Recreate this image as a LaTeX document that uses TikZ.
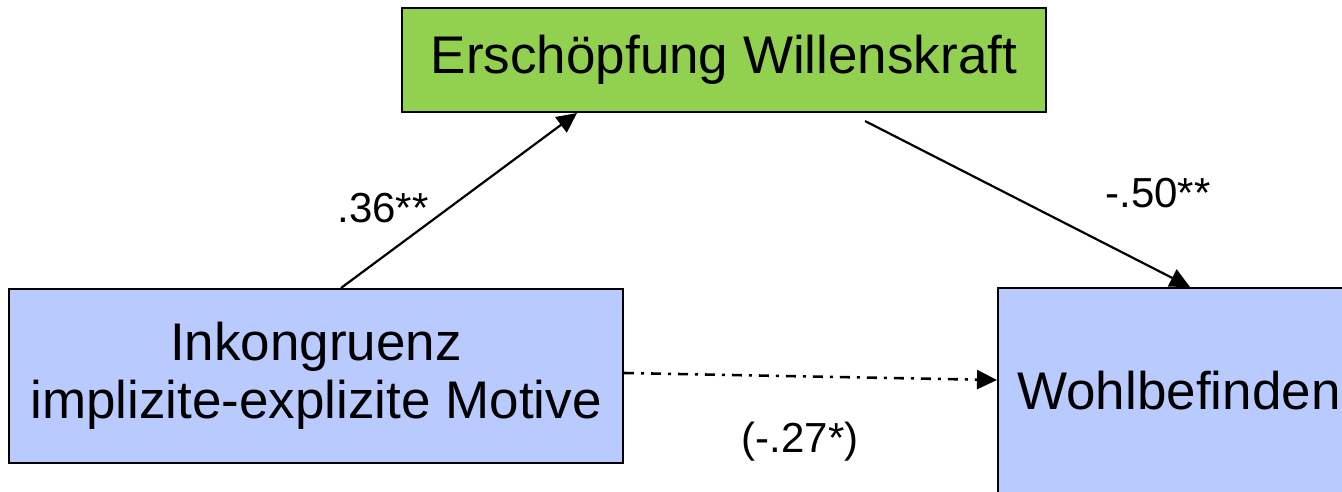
\documentclass[tikz,border=0pt]{standalone}
\usepackage{fontspec}
\setmainfont{Liberation Sans}
\usetikzlibrary{arrows.meta}
\definecolor{mediatorgreen}{HTML}{92D050}
\definecolor{varblue}{HTML}{B9CAFF}
\tikzset{
  varbox/.style={draw=black, line width=2pt, inner sep=0pt, align=center,
    font=\fontsize{53}{58}\selectfont},
  path/.style={line width=2.2pt, -{Triangle[length=20pt,width=19pt]}},
  coef/.style={font=\fontsize{42}{46}\selectfont, inner sep=0pt},
}
\begin{document}
\begin{tikzpicture}[x=1pt, y=1pt]
  \useasboundingbox (0,0) rectangle (1342,-492);
  \clip (0,0) rectangle (1342,-492);
  % mediator
  \node[varbox, fill=mediatorgreen, minimum width=644pt, minimum height=104pt]
    (med) at (724,-60) {Erschöpfung Willenskraft};
  % predictor
  \node[varbox, fill=varblue, minimum width=614pt, minimum height=174pt]
    (pred) at (316,-376) {Inkongruenz\\implizite-explizite Motive};
  % outcome (runs past the right and bottom edges)
  \node[varbox, fill=varblue, minimum width=362pt, minimum height=206pt]
    (out) at (1179,-391) {Wohlbefinden};
  % paths
  \draw[path] ([xshift=333pt]pred.north west) -- ([xshift=176pt]med.south west);
  \draw[path] ([xshift=464pt,yshift=-8pt]med.north west |- med.south) -- ([xshift=193pt]out.north west);
  \draw[path, line width=2.6pt, dash pattern=on 10pt off 7pt on 3pt off 7pt]
    ([yshift=3pt]pred.east) -- ([yshift=11pt]out.west);
  % coefficients
  \node[coef] (a) at (383,-208) {.36**};
  \node[coef] (b) at (1158,-193) {-.50**};
  \node[coef] (c) at (800,-442) {(-.27*)};
\end{tikzpicture}
\end{document}
